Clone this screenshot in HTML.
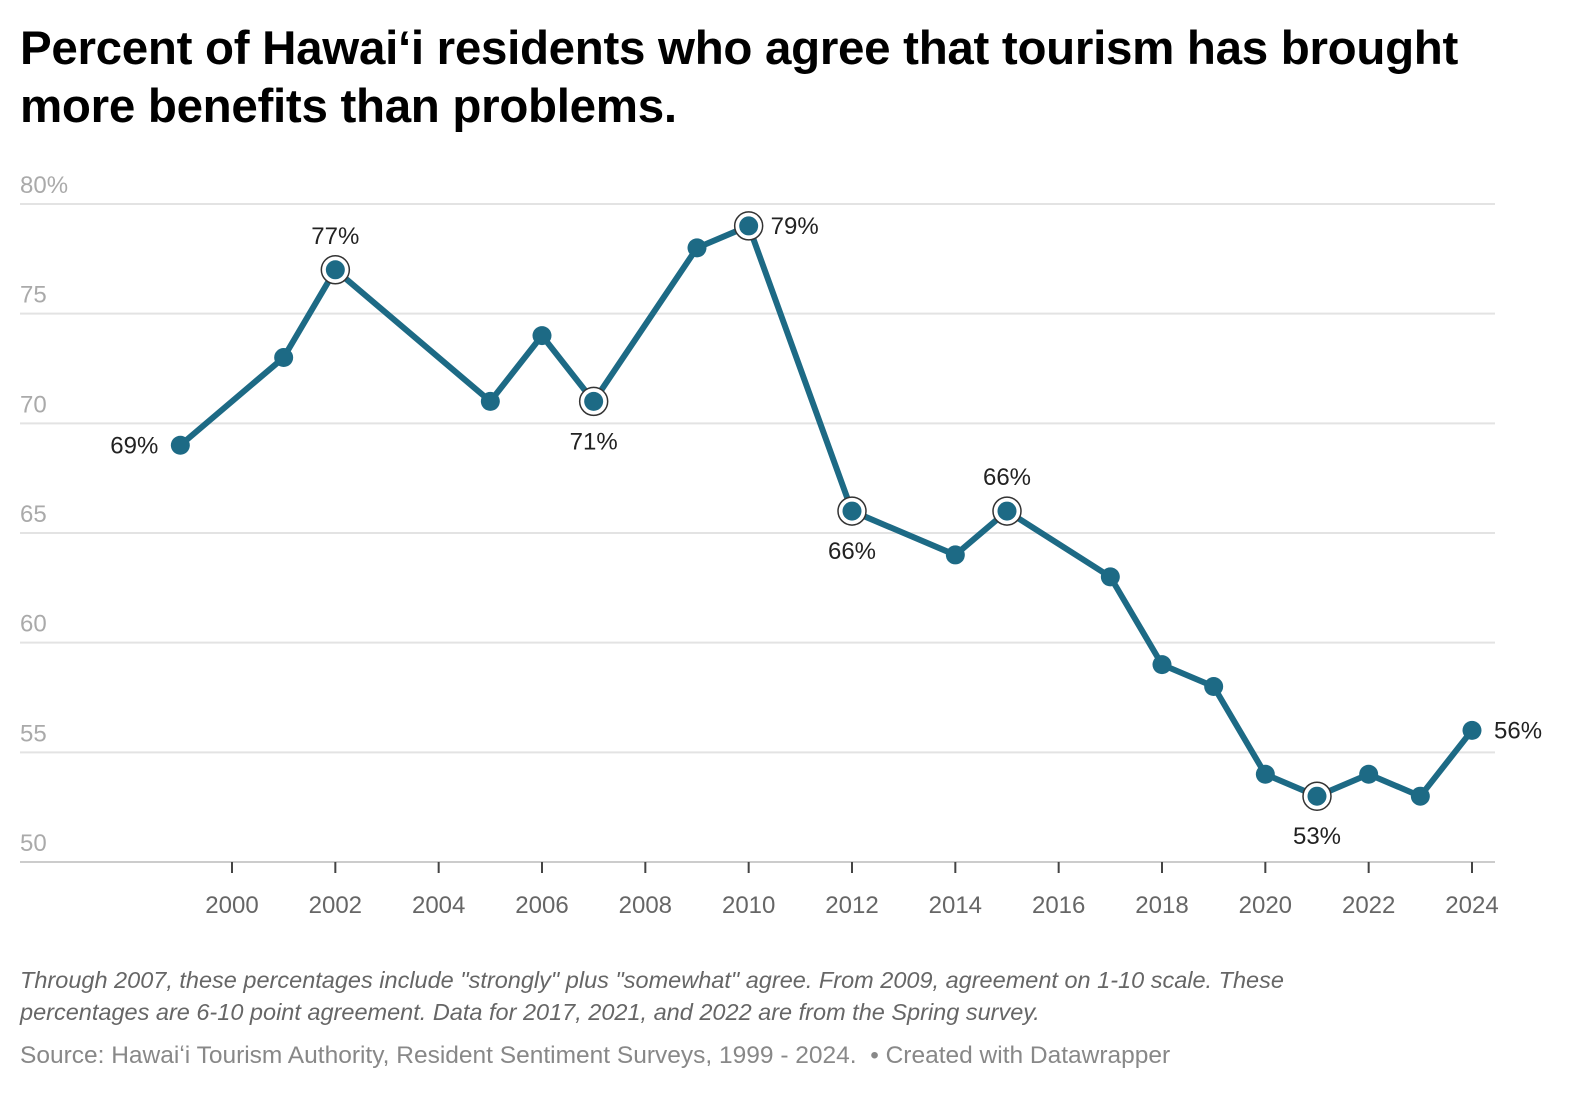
<!DOCTYPE html>
<html><head><meta charset="utf-8">
<style>
body{margin:0;background:#fff;width:1596px;height:1112px;overflow:hidden;font-family:"Liberation Sans","DejaVu Sans",sans-serif;}
h1{position:absolute;left:20px;top:20px;margin:0;font-size:47.5px;line-height:58px;font-weight:bold;color:#000;width:1540px;letter-spacing:-0.3px}
.note{position:absolute;left:20px;top:964px;font-size:23.5px;line-height:32px;font-style:italic;color:#666;width:1330px}
.src{position:absolute;left:20px;top:1042px;font-size:24.5px;color:#888}
svg{position:absolute;left:0;top:0}
</style></head><body>
<h1>Percent of Hawaiʻi residents who agree that tourism has brought more benefits than problems.</h1>
<svg id="chart" width="1596" height="1112"></svg>
<div class="note">Through 2007, these percentages include "strongly" plus "somewhat" agree. From 2009, agreement on 1-10 scale. These percentages are 6-10 point agreement. Data for 2017, 2021, and 2022 are from the Spring survey.</div>
<div class="src">Source: Hawaiʻi Tourism Authority, Resident Sentiment Surveys, 1999 - 2024. &nbsp;• Created with Datawrapper</div>
<script>
const years=[1999,2001,2002,2005,2006,2007,2009,2010,2012,2014,2015,2017,2018,2019,2020,2021,2022,2023,2024];
const values=[69,73,77,71,74,71,78,79,66,64,66,63,59,58,54,53,54,53,56];
const yTicks=[50,55,60,65,70,75,80];
const yTickLabels=["50","55","60","65","70","75","80%"];
const xTicks=[2000,2002,2004,2006,2008,2010,2012,2014,2016,2018,2020,2022,2024];
const highlightYears=[2002,2007,2010,2012,2015,2021];
const labelYears=[1999,2002,2007,2010,2012,2015,2021,2024];
const labelPos=["left","above","below","right","below","above","below","right"];

const NS="http://www.w3.org/2000/svg";
const svg=document.getElementById('chart');
const x=v=>232+(v-2000)*(1472-232)/24;
const y=v=>862-(v-50)*(862-204)/30;
function mk(t,a){const e=document.createElementNS(NS,t);for(const k in a)e.setAttribute(k,a[k]);svg.appendChild(e);return e;}

yTicks.forEach((t,i)=>{
  const g=mk('line',{x1:20,x2:1495,y1:y(t),y2:y(t),stroke:i===0?'#ccc':'#e3e3e3','stroke-width':2});
  
  
  const l=mk('text',{x:20,y:y(t)-11,'font-size':24,fill:'#aaa'});
  l.textContent=yTickLabels[i];
  
  
});
xTicks.forEach(t=>{
  const tk=mk('line',{x1:x(t),x2:x(t),y1:862,y2:873,stroke:'#444','stroke-width':2});
  
  
  const l=mk('text',{x:x(t),y:913,'font-size':24,fill:'#666','text-anchor':'middle'});
  l.textContent=t;
  
  
});
const line=mk('polyline',{points:years.map((yr,i)=>x(yr)+','+y(values[i])).join(' '),fill:'none',stroke:'#1d6a85','stroke-width':6,'stroke-linejoin':'round'});


years.forEach((yr,i)=>{
  if(highlightYears.includes(yr)){
    const r=mk('circle',{cx:x(yr),cy:y(values[i]),r:14,fill:'#fff',stroke:'#333','stroke-width':1.5});
    
    
  }
  const c=mk('circle',{cx:x(yr),cy:y(values[i]),r:9.5,fill:'#1d6a85'});
  
  
});
labelYears.forEach((yr,j)=>{
  const i=years.indexOf(yr);const px=x(yr),py=y(values[i]);const p=labelPos[j];
  let a={'font-size':24,fill:'#222'};
  if(p==='left'){a.x=px-22;a.y=py+8;a['text-anchor']='end';}
  if(p==='right'){a.x=px+22;a.y=py+8;a['text-anchor']='start';}
  if(p==='above'){a.x=px;a.y=py-26;a['text-anchor']='middle';}
  if(p==='below'){a.x=px;a.y=py+48;a['text-anchor']='middle';}
  const t=mk('text',a);t.textContent=values[i]+'%';
  
  
});
</script>
</body></html>
